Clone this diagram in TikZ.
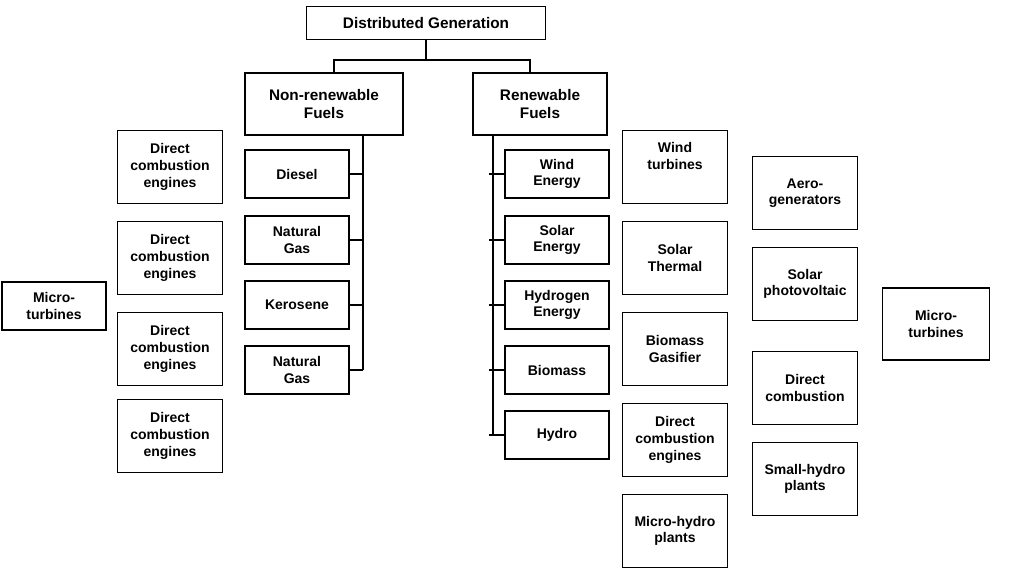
\documentclass[tikz,border=0pt]{standalone}
\usepackage{fontspec}
\setmainfont{Liberation Sans}
\begin{document}
\begin{tikzpicture}[x=0.75pt,y=-0.75pt,
  bx/.style={draw,line width=0.9pt,align=center,inner sep=0pt,font=\fontsize{10.5}{12.5}\selectfont\bfseries,minimum width=#1*0.75pt},
  s/.style={bx=104,minimum height=36pt},
  t/.style={bx=105,minimum height=54.75pt},
  ln/.style={line width=0.9pt}]
\useasboundingbox (0,0) rectangle (1024,575);
\node[bx=239,minimum height=24.75pt,font=\fontsize{11.5}{14}\selectfont\bfseries] (dg) at (426,23) {Distributed Generation};
\node[bx=158,minimum height=46.5pt,font=\fontsize{11.5}{13.5}\selectfont\bfseries] (nr) at (324,104) {Non-renewable\\Fuels};
\node[bx=134,minimum height=46.5pt,font=\fontsize{11.5}{13.5}\selectfont\bfseries] (rf) at (540,104) {Renewable\\Fuels};
\coordinate (j) at (426,60);
\coordinate (ja) at (334,60);
\coordinate (jb) at (530,60);
\draw[ln] (dg.south) -- (j);
\draw[ln] (ja |- nr.north) -- (ja) -- (jb) -- (jb |- rf.north);
% left column
\node[t] (l1) at (170,167) {Direct\\combustion\\engines};
\node[t] (l2) at (170,258) {Direct\\combustion\\engines};
\node[t] (l3) at (170,349) {Direct\\combustion\\engines};
\node[t] (l4) at (170,436) {Direct\\combustion\\engines};
\node[bx=104,minimum height=36pt] (mt1) at (54,306) {Micro-\\turbines};
% non renewable
\node[s] (n1) at (297,174) {Diesel};
\node[s] (n2) at (297,240) {Natural\\Gas};
\node[s] (n3) at (297,305) {Kerosene};
\node[s] (n4) at (297,370) {Natural\\Gas};
\coordinate (nv) at (363,370);
\draw[ln] (363,135) -- (nv);
\foreach \n in {n1,n2,n3,n4} \draw[ln] (\n.east) -- (\n.east -| nv);
% renewable
\node[s] (r1) at (557,174) {Wind\\Energy};
\node[s] (r2) at (557,240) {Solar\\Energy};
\node[s] (r3) at (557,305) {Hydrogen\\Energy};
\node[s] (r4) at (557,370) {Biomass};
\node[s] (r5) at (557,435) {Hydro};
\coordinate (rv) at (493,435);
\draw[ln] (493,135) -- (rv);
\foreach \n in {r1,r2,r3,r4,r5} \draw[ln] ([xshift=-3pt]\n.west -| rv) -- (\n.west);
% column 3
\node[t] (c1) at (675,167) {Wind\\turbines\\[4pt]};
\node[t] (c2) at (675,258) {Solar\\Thermal};
\node[t] (c3) at (675,349) {Biomass\\Gasifier};
\node[t] (c4) at (675,440) {Direct\\combustion\\engines};
\node[t] (c5) at (675,531) {Micro-hydro\\plants};
% column 4
\node[t] (d1) at (805,193) {Aero-\\generators};
\node[t] (d2) at (805,284) {Solar\\photovoltaic};
\node[t] (d3) at (805,388) {Direct\\combustion};
\node[t] (d4) at (805,479) {Small-hydro\\plants};
\node[bx=107,minimum height=54pt] (mt2) at (936,324) {Micro-\\turbines};
\end{tikzpicture}
\end{document}
